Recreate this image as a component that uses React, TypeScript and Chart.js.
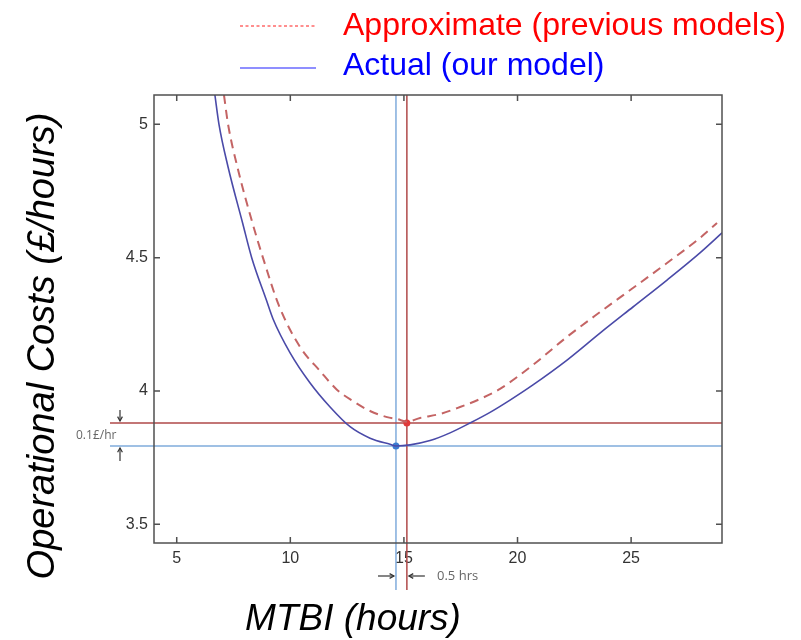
import React, { useEffect, useRef } from "react";
import { Chart, registerables } from "chart.js";

Chart.register(...registerables);

// ---- data ----
const xTicks = [5, 10, 15, 20, 25];
const yTicks = [3.5, 4, 4.5, 5];

const actualX = [6.68, 6.86, 7.26, 7.9, 8.3, 8.95, 9.24, 9.99, 10.87, 11.75, 12.63, 13.51, 14.39, 14.65, 15.27, 16.15, 17.03, 17.91, 18.79, 19.67, 20.68, 22.18, 23.63, 25.08, 26.58, 28.03, 29.0];
const actualY = [5.11, 5.0, 4.84, 4.63, 4.5, 4.34, 4.27, 4.143, 4.03, 3.94, 3.866, 3.823, 3.8, 3.794, 3.798, 3.814, 3.843, 3.88, 3.92, 3.966, 4.023, 4.116, 4.217, 4.315, 4.416, 4.518, 4.593];

const approxX = [7.08, 7.26, 7.7, 8.3, 8.85, 9.5, 10.43, 11.31, 12.05, 12.76, 13.51, 14.26, 14.7, 15.13, 15.71, 16.59, 17.47, 18.35, 19.23, 20.68, 22.18, 23.63, 25.08, 26.58, 28.03, 28.78];
const approxY = [5.11, 5.0, 4.83, 4.64, 4.485, 4.32, 4.165, 4.075, 4.005, 3.962, 3.925, 3.902, 3.895, 3.885, 3.899, 3.914, 3.94, 3.97, 4.008, 4.098, 4.203, 4.296, 4.386, 4.48, 4.574, 4.63];

// optimum points: [actual, approximate]
const minimaX = [14.65, 15.13];
const minimaY = [3.794, 3.88];

const legendLabels = ["Approximate (previous models)", "Actual (our model)"];
const xTitle = "MTBI (hours)";
const yTitle = "Operational Costs (£/hours)";
const costGapLabel = "0.1£/hr";
const timeGapLabel = "0.5 hrs";

const FONT = "'Liberation Sans', Arial, sans-serif";
const ANN_FONT = "'Open Sans', 'DejaVu Sans', sans-serif";
const ACTUAL_COLOR = "#4a4aa8";
const APPROX_COLOR = "#c46464";
const BLUE_REF = "#80acdc";
const RED_REF = "#b04a4a";

function pts(xs: number[], ys: number[]) {
  return xs.map((x, i) => ({ x, y: ys[i] }));
}

function arrow(ctx: CanvasRenderingContext2D, x1: number, y1: number, x2: number, y2: number) {
  ctx.beginPath();
  ctx.moveTo(x1, y1);
  ctx.lineTo(x2, y2);
  ctx.stroke();
  const ang = Math.atan2(y2 - y1, x2 - x1);
  const h = 5;
  ctx.beginPath();
  ctx.moveTo(x2 - h * Math.cos(ang - 0.5), y2 - h * Math.sin(ang - 0.5));
  ctx.lineTo(x2, y2);
  ctx.lineTo(x2 - h * Math.cos(ang + 0.5), y2 - h * Math.sin(ang + 0.5));
  ctx.stroke();
}

const decor = {
  id: "decor",
  beforeDatasetsDraw(chart: any) {
    const { ctx, chartArea: a } = chart;
    const xs = chart.scales.x, ys = chart.scales.y;
    const bx = xs.getPixelForValue(minimaX[0]);
    const rx = xs.getPixelForValue(minimaX[1]);
    const by = ys.getPixelForValue(minimaY[0]);
    const ry = ys.getPixelForValue(minimaY[1]);
    ctx.save();
    ctx.lineWidth = 1.5;
    ctx.strokeStyle = BLUE_REF;
    ctx.beginPath();
    ctx.moveTo(bx, a.top); ctx.lineTo(bx, 590);
    ctx.moveTo(110, by); ctx.lineTo(a.right, by);
    ctx.stroke();
    ctx.strokeStyle = RED_REF;
    ctx.beginPath();
    ctx.moveTo(rx, a.top); ctx.lineTo(rx, 590);
    ctx.moveTo(110, ry); ctx.lineTo(a.right, ry);
    ctx.stroke();
    ctx.restore();
  },
  afterDraw(chart: any) {
    const { ctx, chartArea: a } = chart;
    const xs = chart.scales.x, ys = chart.scales.y;
    ctx.save();
    // box
    ctx.strokeStyle = "#505050";
    ctx.lineWidth = 1.5;
    ctx.strokeRect(a.left, a.top, a.right - a.left, a.bottom - a.top);
    // inward ticks
    ctx.beginPath();
    xTicks.forEach((v) => {
      const p = xs.getPixelForValue(v);
      ctx.moveTo(p, a.bottom); ctx.lineTo(p, a.bottom - 6);
      ctx.moveTo(p, a.top); ctx.lineTo(p, a.top + 6);
    });
    yTicks.forEach((v) => {
      const p = ys.getPixelForValue(v);
      ctx.moveTo(a.left, p); ctx.lineTo(a.left + 6, p);
      ctx.moveTo(a.right, p); ctx.lineTo(a.right - 6, p);
    });
    ctx.stroke();

    // annotations
    const bx = xs.getPixelForValue(minimaX[0]);
    const rx = xs.getPixelForValue(minimaX[1]);
    const by = ys.getPixelForValue(minimaY[0]);
    const ry = ys.getPixelForValue(minimaY[1]);
    ctx.strokeStyle = "#333";
    ctx.lineWidth = 1.2;
    arrow(ctx, 120, ry - 13, 120, ry - 2);
    arrow(ctx, 120, by + 15, 120, by + 2);
    arrow(ctx, bx - 18, 576, bx - 2, 576);
    arrow(ctx, rx + 18, 576, rx + 2, 576);
    ctx.fillStyle = "#666";
    ctx.font = `12px ${ANN_FONT}`;
    ctx.textBaseline = "middle";
    ctx.textAlign = "left";
    ctx.fillText(costGapLabel, 76, (ry + by) / 2 + 1);
    ctx.font = `13px ${ANN_FONT}`;
    ctx.fillText(timeGapLabel, 437, 576);

    // axis titles
    ctx.fillStyle = "#000";
    ctx.textAlign = "center";
    ctx.textBaseline = "alphabetic";
    ctx.font = `italic 37px ${FONT}`;
    ctx.fillText(xTitle, 353, 630);
    ctx.save();
    ctx.translate(54, 346);
    ctx.rotate(-Math.PI / 2);
    ctx.font = `italic 38px ${FONT}`;
    ctx.fillText(yTitle, 0, 0);
    ctx.restore();

    // legend
    ctx.lineWidth = 1.3;
    ctx.strokeStyle = "#ff6a6a";
    ctx.setLineDash([3, 2.5]);
    ctx.beginPath();
    ctx.moveTo(240, 26); ctx.lineTo(316, 26);
    ctx.stroke();
    ctx.setLineDash([]);
    ctx.strokeStyle = "#6a6aff";
    ctx.beginPath();
    ctx.moveTo(240, 68); ctx.lineTo(316, 68);
    ctx.stroke();
    ctx.font = `32px ${FONT}`;
    ctx.textAlign = "left";
    ctx.fillStyle = "#ff0000";
    ctx.fillText(legendLabels[0], 343, 35);
    ctx.fillStyle = "#0000ff";
    ctx.fillText(legendLabels[1], 343, 75);
    ctx.restore();
  },
};

export default function App() {
  const ref = useRef<HTMLCanvasElement>(null);
  useEffect(() => {
    const chart = new Chart(ref.current!, {
      type: "scatter",
      data: {
        datasets: [
          {
            label: legendLabels[0],
            data: pts(approxX, approxY),
            showLine: true,
            borderColor: APPROX_COLOR,
            borderWidth: 2,
            borderDash: [9, 6],
            pointRadius: 0,
            cubicInterpolationMode: "monotone",
          },
          {
            label: legendLabels[1],
            data: pts(actualX, actualY),
            showLine: true,
            borderColor: ACTUAL_COLOR,
            borderWidth: 1.6,
            pointRadius: 0,
            cubicInterpolationMode: "monotone",
          },
          {
            label: "minima-actual",
            data: [{ x: minimaX[0], y: minimaY[0] }],
            pointRadius: 3.5,
            backgroundColor: "#3c7cd0",
            borderWidth: 0,
          },
          {
            label: "minima-approx",
            data: [{ x: minimaX[1], y: minimaY[1] }],
            pointRadius: 3.5,
            backgroundColor: "#e03a3a",
            borderWidth: 0,
          },
        ],
      },
      options: {
        responsive: false,
        animation: false,
        events: [],
        layout: { padding: { left: 0, top: 95, right: 79, bottom: 0 } },
        plugins: { legend: { display: false }, tooltip: { enabled: false } },
        scales: {
          x: {
            type: "linear",
            min: 4,
            max: 29,
            grid: { display: false, drawTicks: false },
            border: { display: false },
            afterBuildTicks: (s: any) => { s.ticks = xTicks.map((v) => ({ value: v })); },
            afterFit: (s: any) => { s.height = 97; },
            ticks: { font: { size: 16, family: FONT }, color: "#333", padding: 6, maxRotation: 0 },
          },
          y: {
            type: "linear",
            min: 3.43,
            max: 5.11,
            grid: { display: false, drawTicks: false },
            border: { display: false },
            afterBuildTicks: (s: any) => { s.ticks = yTicks.map((v) => ({ value: v })); },
            afterFit: (s: any) => { s.width = 154; },
            ticks: { font: { size: 16, family: FONT }, color: "#333", padding: 6, callback: (v: any) => String(v) },
          },
        },
      },
      plugins: [decor],
    } as any);
    return () => chart.destroy();
  }, []);
  return (
    <div style={{ position: "absolute", left: 0, top: 0, width: 801, height: 640 }}>
      <canvas ref={ref} width={801} height={640} />
    </div>
  );
}
